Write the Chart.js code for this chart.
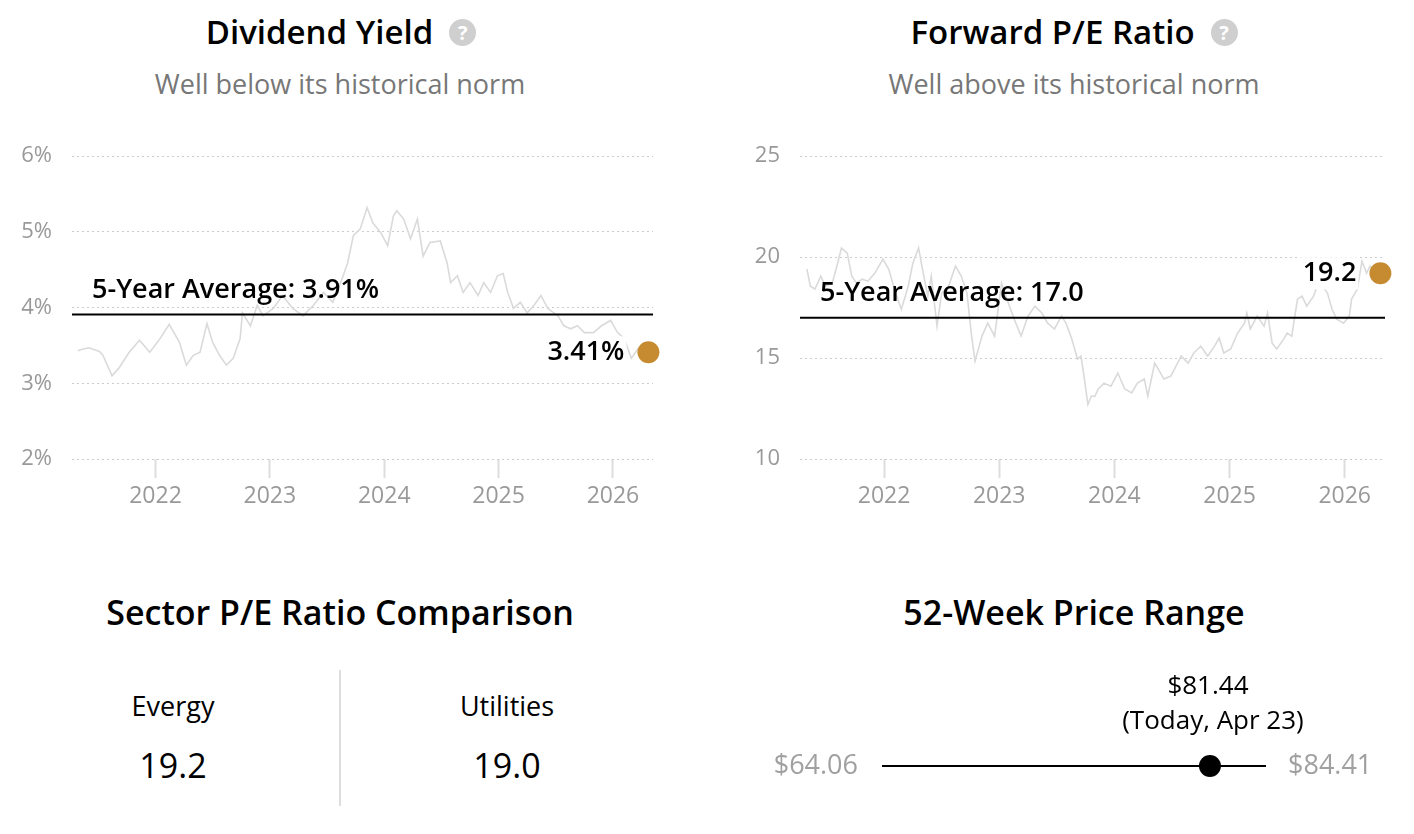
<!DOCTYPE html>
<html>
<head>
<meta charset="utf-8">
<script src="https://cdn.jsdelivr.net/npm/chart.js@4.4.1/dist/chart.umd.min.js"></script>
<style>
  body { margin: 0; width: 1414px; height: 834px; background: #fff; position: relative; overflow: hidden;
         font-family: "Open Sans", sans-serif; color: #000; }
  .t { position: absolute; text-align: center; white-space: nowrap; }
  .title { font-size: 33px; font-weight: 600; line-height: 40px; }
  .help { display: inline-block; width: 27px; height: 27px; border-radius: 50%; background: #cfcfcf; color: #fff;
          font-size: 20px; line-height: 27px; font-weight: 700; text-align: center; vertical-align: middle;
          margin-left: 16px; position: relative; top: -3px; }
  .sub { font-size: 27px; color: #777; line-height: 34px; }
  canvas { position: absolute; }
</style>
</head>
<body>

<div class="t title" style="left:0; width:682px; top:12px;">Dividend Yield<span class="help">?</span></div>
<div class="t sub" style="left:0; width:680px; top:67px;">Well below its historical norm</div>
<div class="t title" style="left:733px; width:682px; top:12px;">Forward P/E Ratio<span class="help">?</span></div>
<div class="t sub" style="left:734px; width:680px; top:67px;">Well above its historical norm</div>

<canvas id="divChart" width="707" height="397" style="left:0; top:123px;"></canvas>
<canvas id="peChart" width="707" height="397" style="left:707px; top:123px;"></canvas>

<div class="t title" style="left:0; width:680px; top:592px; font-size:34px;">Sector P/E Ratio Comparison</div>
<div id="sector"></div>
<div style="position:absolute; left:339px; top:670px; width:2px; height:136px; background:#ddd;"></div>

<div class="t title" style="left:734px; width:680px; top:592px; font-size:34px;">52-Week Price Range</div>
<canvas id="rangeChart" width="654" height="150" style="left:760px; top:650px;"></canvas>

<script>
// dividend yield, %
var divYears = [2021.32, 2021.36, 2021.42, 2021.51, 2021.54, 2021.62, 2021.68, 2021.77, 2021.86, 2021.95,
  2022.04, 2022.12, 2022.21, 2022.27, 2022.33, 2022.39, 2022.45, 2022.50, 2022.56, 2022.62,
  2022.68, 2022.74, 2022.76, 2022.83, 2022.89, 2022.94, 2023.03, 2023.11, 2023.20, 2023.29,
  2023.38, 2023.47, 2023.55, 2023.61, 2023.68, 2023.73, 2023.79, 2023.85, 2023.90, 2023.97,
  2024.03, 2024.08, 2024.11, 2024.17, 2024.23, 2024.29, 2024.34, 2024.40, 2024.49, 2024.55,
  2024.58, 2024.64, 2024.69, 2024.75, 2024.82, 2024.87, 2024.93, 2024.99, 2025.04, 2025.08,
  2025.13, 2025.19, 2025.25, 2025.31, 2025.37, 2025.43, 2025.52, 2025.57, 2025.63, 2025.69,
  2025.75, 2025.83, 2025.90, 2025.98, 2026.04, 2026.10, 2026.16, 2026.22, 2026.31];
var divValues = [3.43, 3.45, 3.47, 3.42, 3.37, 3.10, 3.20, 3.41, 3.57, 3.41,
  3.59, 3.78, 3.54, 3.24, 3.37, 3.41, 3.79, 3.54, 3.37, 3.24,
  3.33, 3.59, 3.93, 3.76, 4.03, 3.89, 3.99, 4.16, 3.99, 3.89,
  4.03, 4.20, 4.07, 4.29, 4.59, 4.95, 5.04, 5.32, 5.12, 4.99,
  4.82, 5.21, 5.28, 5.17, 4.91, 5.17, 4.68, 4.86, 4.88, 4.59,
  4.33, 4.42, 4.20, 4.33, 4.16, 4.33, 4.20, 4.42, 4.45, 4.20,
  3.99, 4.07, 3.93, 4.03, 4.16, 3.99, 3.89, 3.76, 3.72, 3.76,
  3.67, 3.67, 3.76, 3.83, 3.67, 3.59, 3.33, 3.46, 3.41];
var divAvg = 3.91;
var divTicks = [2, 3, 4, 5, 6];

// forward P/E
var peYears = [2021.33, 2021.36, 2021.40, 2021.45, 2021.49, 2021.55, 2021.59, 2021.63, 2021.68, 2021.72,
  2021.76, 2021.81, 2021.86, 2021.92, 2021.97, 2021.99, 2022.04, 2022.10, 2022.15, 2022.21,
  2022.25, 2022.30, 2022.34, 2022.38, 2022.41, 2022.46, 2022.50, 2022.56, 2022.62, 2022.67,
  2022.72, 2022.76, 2022.79, 2022.85, 2022.90, 2022.96, 2023.02, 2023.08, 2023.13, 2023.19,
  2023.25, 2023.31, 2023.37, 2023.42, 2023.48, 2023.54, 2023.58, 2023.63, 2023.68, 2023.71,
  2023.74, 2023.77, 2023.80, 2023.83, 2023.86, 2023.91, 2023.97, 2024.03, 2024.09, 2024.15,
  2024.20, 2024.26, 2024.29, 2024.35, 2024.38, 2024.43, 2024.49, 2024.58, 2024.64, 2024.69,
  2024.75, 2024.81, 2024.87, 2024.91, 2024.95, 2025.01, 2025.07, 2025.13, 2025.15, 2025.18,
  2025.24, 2025.30, 2025.33, 2025.37, 2025.41, 2025.47, 2025.50, 2025.54, 2025.59, 2025.63,
  2025.67, 2025.73, 2025.76, 2025.79, 2025.85, 2025.89, 2025.93, 2025.99, 2026.04, 2026.06,
  2026.11, 2026.15, 2026.19, 2026.22, 2026.31];
var peValues = [19.41, 18.56, 18.42, 19.06, 18.56, 18.71, 19.55, 20.45, 20.20, 19.06,
  18.71, 18.91, 18.81, 19.21, 19.70, 19.90, 19.41, 18.22, 17.42, 18.56,
  19.70, 20.45, 19.21, 18.07, 19.06, 16.58, 18.22, 18.56, 19.55, 19.06,
  18.22, 16.09, 14.85, 16.09, 16.73, 16.09, 18.71, 17.72, 16.93, 16.09,
  17.08, 17.57, 17.23, 16.73, 16.44, 17.08, 16.73, 15.94, 14.95, 15.10,
  13.96, 12.70, 13.12, 13.10, 13.47, 13.76, 13.61, 14.26, 13.47, 13.27,
  13.76, 13.96, 13.12, 14.75, 14.46, 13.96, 14.11, 15.10, 14.75, 15.25,
  15.59, 15.10, 15.59, 15.99, 15.25, 15.45, 16.24, 16.73, 17.23, 16.44,
  17.08, 16.58, 17.23, 15.74, 15.45, 15.94, 16.24, 16.09, 17.92, 18.07,
  17.57, 18.07, 18.56, 18.71, 18.22, 17.42, 16.93, 16.73, 17.08, 17.92,
  18.42, 19.80, 19.21, 19.55, 19.20];
var peAvg = 17.0;
var peTicks = [10, 15, 20, 25];

var yearTicks = [2022, 2023, 2024, 2025, 2026];
var xMin = 2021.27, xMax = 2026.35;

// bottom panels
var sectorNames = ['Evergy', 'Utilities'];
var sectorPE = ['19.2', '19.0'];
var rangeLow = 64.06, rangeHigh = 84.41, priceToday = 81.44, todayLabel = '(Today, Apr 23)';

Chart.defaults.font.family = '"Open Sans", sans-serif';
Chart.defaults.animation = false;

var gold = '#c68b30';

// average / last value labels, placed through the chart scales
var markLabels = {
  id: 'markLabels',
  afterDatasetsDraw: function(chart, args, opts) {
    var ctx = chart.ctx, xs = chart.scales.x, ys = chart.scales.y, area = chart.chartArea;
    ctx.save();
    ctx.font = '600 27px "Open Sans"';
    ctx.textBaseline = 'middle';
    ctx.fillStyle = '#000';
    ctx.textAlign = 'left';
    ctx.fillText(opts.avgText, area.left + 20, ys.getPixelForValue(opts.avg) - 24);

    var px = xs.getPixelForValue(opts.lastX), py = ys.getPixelForValue(opts.lastY);
    var w = ctx.measureText(opts.valText).width;
    ctx.fillStyle = '#fff';
    ctx.fillRect(px - 28 - w, py - 16, w + 6, 32);
    ctx.fillStyle = '#000';
    ctx.textAlign = 'right';
    ctx.fillText(opts.valText, px - 24, py);
    ctx.restore();
  }
};

function historyChart(id, years, values, avg, avgText, valText, yTicks, yFmt, yWidth, padRight) {
  var pts = years.map(function(x, i) { return { x: x, y: values[i] }; });
  var last = pts[pts.length - 1];
  return new Chart(document.getElementById(id), {
    type: 'line',
    data: {
      datasets: [
        { data: [last], showLine: false, pointRadius: 11, pointHoverRadius: 11, pointBorderWidth: 0,
          pointBackgroundColor: gold, clip: false, order: 0 },
        { data: [{ x: xMin, y: avg }, { x: xMax, y: avg }], borderColor: '#000', borderWidth: 2,
          pointRadius: 0, order: 1 },
        { data: pts, borderColor: '#dadada', borderWidth: 1.6, pointRadius: 0, tension: 0, order: 2 }
      ]
    },
    options: {
      responsive: false,
      layout: { padding: { top: 19, right: padRight, left: 0, bottom: 0 } },
      plugins: {
        legend: { display: false },
        tooltip: { enabled: false },
        markLabels: { avg: avg, avgText: avgText, valText: valText, lastX: last.x, lastY: last.y }
      },
      scales: {
        x: {
          type: 'linear', min: xMin, max: xMax,
          afterBuildTicks: function(s) { s.ticks = yearTicks.map(function(v) { return { value: v }; }); },
          afterFit: function(s) { s.height = 61; },
          grid: { drawOnChartArea: false, drawTicks: true, tickLength: 19, tickColor: '#dddddd', tickWidth: 2 },
          border: { display: false },
          ticks: { padding: 5, color: '#999', font: { size: 23 }, maxRotation: 0, autoSkip: false,
                   callback: function(v) { return String(v); } }
        },
        y: {
          min: yTicks[0], max: yTicks[yTicks.length - 1],
          afterBuildTicks: function(s) { s.ticks = yTicks.map(function(v) { return { value: v }; }); },
          afterFit: function(s) { s.width = yWidth; },
          grid: { color: '#cccccc', lineWidth: 1, drawTicks: false },
          border: { display: false, dash: [2, 3] },
          ticks: { padding: 20, color: '#999', font: { size: 22 }, callback: yFmt }
        }
      }
    },
    plugins: [markLabels]
  });
}

historyChart('divChart', divYears, divValues, divAvg, '5-Year Average: 3.91%', '3.41%', divTicks,
  function(v) { return v + '%'; }, 72, 54);
historyChart('peChart', peYears, peValues, peAvg, '5-Year Average: 17.0', '19.2', peTicks,
  function(v) { return String(v); }, 93, 29);

// sector comparison
var sectorX = [173, 507];
var html = '';
sectorNames.forEach(function(n, i) {
  html += '<div class="t" style="left:' + (sectorX[i] - 150) + 'px; width:300px; top:687px; font-size:27px; line-height:38px;">' + n + '</div>';
  html += '<div class="t" style="left:' + (sectorX[i] - 150) + 'px; width:300px; top:742px; font-size:34px; line-height:46px;">' + sectorPE[i] + '</div>';
});
document.getElementById('sector').innerHTML = html;

// 52-week range
var rangeLabels = {
  id: 'rangeLabels',
  afterDatasetsDraw: function(chart) {
    var ctx = chart.ctx, xs = chart.scales.x, ys = chart.scales.y;
    var y0 = ys.getPixelForValue(0);
    var xl = xs.getPixelForValue(rangeLow), xh = xs.getPixelForValue(rangeHigh), xt = xs.getPixelForValue(priceToday);
    ctx.save();
    ctx.textBaseline = 'middle';
    ctx.font = '27px "Open Sans"';
    ctx.fillStyle = '#a0a0a0';
    ctx.textAlign = 'right';
    ctx.fillText('$' + rangeLow.toFixed(2), xl - 24, y0);
    ctx.textAlign = 'left';
    ctx.fillText('$' + rangeHigh.toFixed(2), xh + 22, y0);
    ctx.fillStyle = '#000';
    ctx.textAlign = 'center';
    ctx.font = '26px "Open Sans"';
    ctx.fillText('$' + priceToday.toFixed(2), xt - 2, y0 - 79);
    ctx.fillText(todayLabel, xt + 3, y0 - 44);
    ctx.restore();
  }
};

new Chart(document.getElementById('rangeChart'), {
  type: 'line',
  data: {
    datasets: [
      { data: [{ x: priceToday, y: 0 }], showLine: false, pointRadius: 11, pointBorderWidth: 0,
        pointBackgroundColor: '#000', clip: false, order: 0 },
      { data: [{ x: rangeLow, y: 0 }, { x: rangeHigh, y: 0 }], borderColor: '#000', borderWidth: 2,
        pointRadius: 0, order: 1 }
    ]
  },
  options: {
    responsive: false,
    layout: { padding: { left: 122, right: 148, top: 96, bottom: 14 } },
    plugins: { legend: { display: false }, tooltip: { enabled: false } },
    scales: {
      x: { type: 'linear', min: rangeLow, max: rangeHigh, display: false },
      y: { min: -1, max: 1, display: false }
    }
  },
  plugins: [rangeLabels]
});
</script>
</body>
</html>
